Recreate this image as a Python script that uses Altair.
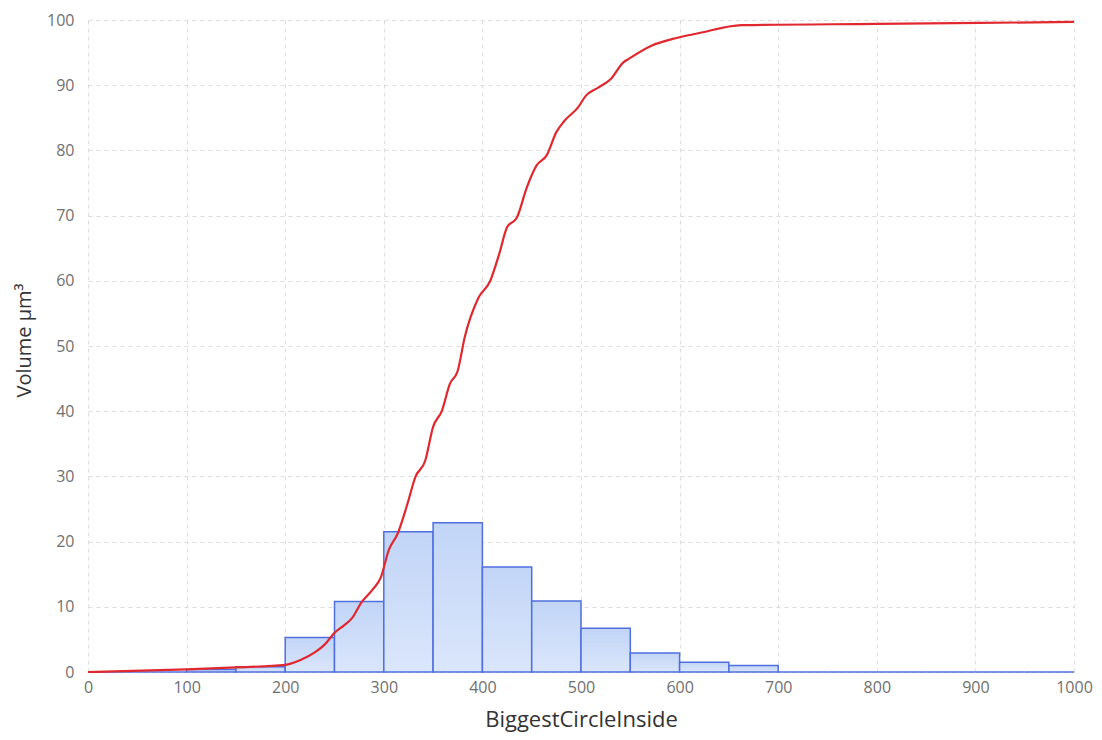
import altair as alt
import pandas as pd

# Histogram bins (BiggestCircleInside) and volume percentages
bin_start = [0, 50, 100, 150, 200, 250, 300, 350, 400, 450, 500, 550, 600, 650, 700, 750, 800, 850, 900, 950]
bin_end = [50, 100, 150, 200, 250, 300, 350, 400, 450, 500, 550, 600, 650, 700, 750, 800, 850, 900, 950, 1000]
bin_value = [0.0, 0.0, 0.4, 0.8, 5.3, 10.8, 21.5, 22.9, 16.1, 10.9, 6.7, 2.9, 1.5, 1.0, 0, 0, 0, 0, 0, 0]

# Cumulative curve
cum_x = [0, 100, 150, 200, 215, 230, 240, 250, 260, 268, 277, 289, 297, 305, 314, 324, 332, 342,
         350, 359, 367, 375, 382, 396, 408, 417, 425, 435, 445, 455, 465, 475, 483, 497, 505,
         517, 530, 543, 548, 572, 593, 620, 663, 800, 1000]
cum_y = [0, 0.4, 0.7, 1.1, 1.8, 3.0, 4.2, 6.0, 7.2, 8.3, 10.6, 12.7, 14.5, 18.7, 21.2, 25.8, 29.9, 32.4,
         37.6, 40.1, 44.2, 46.2, 51.3, 57.4, 60.0, 64.1, 68.2, 69.7, 74.3, 77.7, 79.2, 82.8, 84.5, 86.6, 88.4,
         89.6, 90.9, 93.5, 94.0, 96.1, 97.1, 98.0, 99.2, 99.4, 99.7]

hist = pd.DataFrame({"start": bin_start, "end": bin_end, "value": bin_value})
cum = pd.DataFrame({"x": cum_x, "y": cum_y})

FONT = "Open Sans"

xscale = alt.Scale(domain=[0, 1000], nice=False, zero=False)
yscale = alt.Scale(domain=[0, 100], nice=False)

xaxis = alt.Axis(title="BiggestCircleInside", values=list(range(0, 1001, 100)), format="d", grid=True,
                 gridDash=[4, 4], gridColor="#dcdcdc", domain=False, ticks=False,
                 labelFlush=False, labelOverlap=False,
                 labelFont=FONT, labelFontSize=16, labelColor="#707070", labelPadding=7,
                 titleFont=FONT, titleFontSize=22, titleFontWeight="normal", titleColor="#333333",
                 titlePadding=14)
yaxis = alt.Axis(title="Volume  μm³", values=list(range(0, 101, 10)), format="d", grid=True,
                 gridDash=[4, 4], gridColor="#dcdcdc", domain=False, ticks=False,
                 labelFlush=False,
                 labelFont=FONT, labelFontSize=16, labelColor="#707070", labelPadding=14,
                 titleFont=FONT, titleFontSize=20, titleFontWeight="normal", titleColor="#333333",
                 titlePadding=12, titleY=320)

grad = alt.Gradient(gradient="linear", x1=0, x2=0, y1=0, y2=1,
                    stops=[alt.GradientStop(color="#c2d5f7", offset=0),
                           alt.GradientStop(color="#dae6fb", offset=1)])

bars = alt.Chart(hist).mark_bar(fill=grad, stroke="#4f6fdf", strokeWidth=1.5).encode(
    x=alt.X("start:Q", scale=xscale, axis=xaxis),
    x2="end:Q",
    y=alt.Y("value:Q", scale=yscale, axis=yaxis),
    y2=alt.datum(0),
)

line = alt.Chart(cum).mark_line(color="#e0282e", strokeWidth=2.2, interpolate="monotone").encode(
    x=alt.X("x:Q", scale=xscale),
    y=alt.Y("y:Q", scale=yscale),
)

chart = (bars + line).properties(
    width=986, height=652,
    autosize=alt.AutoSizeParams(type="none"),
    padding={"left": 80, "top": 12, "right": 20, "bottom": 64},
    background="white",
).configure_view(stroke=None)

chart.save("out.html", embed_options={"renderer": "svg", "actions": False})
